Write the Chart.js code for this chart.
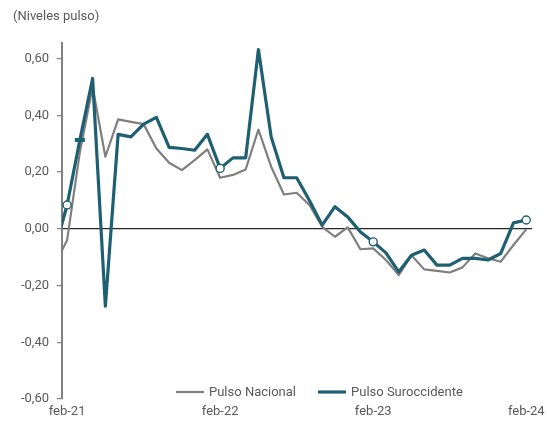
<!DOCTYPE html>
<html>
<head>
<meta charset="utf-8">
<script src="https://cdn.jsdelivr.net/npm/chart.js@4.4.0/dist/chart.umd.min.js"></script>
<style>
  html, body { margin: 0; padding: 0; background: #ffffff; }
  #wrap { width: 547px; height: 422px; position: relative; }
</style>
</head>
<body>
<div id="wrap"><canvas id="c"></canvas></div>
<script>
// ---- Data ----
const months = [
  'ene-21','feb-21','mar-21','abr-21','may-21','jun-21','jul-21','ago-21','sep-21','oct-21','nov-21','dic-21',
  'ene-22','feb-22','mar-22','abr-22','may-22','jun-22','jul-22','ago-22','sep-22','oct-22','nov-22','dic-22',
  'ene-23','feb-23','mar-23','abr-23','may-23','jun-23','jul-23','ago-23','sep-23','oct-23','nov-23','dic-23',
  'ene-24','feb-24'
];
const pulsoNacional = [
  -0.13, -0.04, 0.27, 0.50, 0.254, 0.386, 0.377, 0.369, 0.283, 0.233, 0.207, 0.242,
  0.28, 0.18, 0.19, 0.209, 0.35, 0.219, 0.121, 0.127, 0.084, 0.007, -0.028, 0.005,
  -0.072, -0.069, -0.11, -0.163, -0.093, -0.143, -0.148, -0.154, -0.136, -0.087, -0.104, -0.116,
  -0.057, -0.002
];
const pulsoSuroccidente = [
  -0.08, 0.084, 0.313, 0.53, -0.273, 0.333, 0.324, 0.369, 0.393, 0.287, 0.283, 0.277,
  0.333, 0.213, 0.25, 0.25, 0.632, 0.324, 0.18, 0.18, 0.10, 0.013, 0.078, 0.042,
  -0.011, -0.046, -0.085, -0.152, -0.093, -0.075, -0.128, -0.128, -0.104, -0.104, -0.11, -0.087,
  0.021, 0.031
];
const xTickLabels = ['feb-21', 'feb-22', 'feb-23', 'feb-24'];
const yTickValues = [-0.6, -0.4, -0.2, 0, 0.2, 0.4, 0.6];
const circleMonths = ['feb-21', 'feb-22', 'feb-23', 'feb-24'];
const dashMonths = ['mar-21'];
const seriesNames = ['Pulso Nacional', 'Pulso Suroccidente'];

// ---- Styles ----
const GRAY = '#7f7f7f';
const BLUE = '#1f5f72';
const TEXT = '#595959';
const FONT = 'Roboto, "Liberation Sans", Arial, sans-serif';

const toPts = arr => arr.map((v, i) => ({ x: i, y: v }));
const fmt = v => (Math.round(v * 100) / 100).toFixed(2).replace('.', ',').replace(/^-0,00$/, '0,00');

const legendPlugin = {
  id: 'inlineLegend',
  afterDraw(chart) {
    const ctx = chart.ctx;
    const y = 392;
    let x = 176;
    ctx.save();
    ctx.font = '13px ' + FONT;
    ctx.textBaseline = 'middle';
    ctx.textAlign = 'left';
    chart.data.datasets.forEach((ds, k) => {
      ctx.strokeStyle = ds.borderColor;
      ctx.lineWidth = ds.borderWidth;
      ctx.beginPath();
      ctx.moveTo(x, y);
      ctx.lineTo(x + 28, y);
      ctx.stroke();
      ctx.fillStyle = TEXT;
      ctx.fillText(ds.label, x + 33, y + 0.5);
      x += 33 + ctx.measureText(ds.label).width + 22;
    });
    ctx.restore();
  }
};

new Chart(document.getElementById('c'), {
  type: 'line',
  data: {
    datasets: [
      {
        label: seriesNames[0],
        data: toPts(pulsoNacional),
        borderColor: GRAY,
        backgroundColor: GRAY,
        borderWidth: 2.2,
        borderJoinStyle: 'round',
        pointRadius: 0,
        tension: 0,
        clip: 0,
        order: 1
      },
      {
        label: seriesNames[1],
        data: toPts(pulsoSuroccidente),
        borderColor: BLUE,
        backgroundColor: BLUE,
        borderWidth: 3.2,
        borderJoinStyle: 'round',
        tension: 0,
        clip: 0,
        order: 0,
        pointStyle: ctx => dashMonths.includes(months[ctx.dataIndex]) ? 'line' : 'circle',
        pointRadius: ctx => circleMonths.includes(months[ctx.dataIndex]) ? 4 :
                            (dashMonths.includes(months[ctx.dataIndex]) ? 5 : 0),
        pointBackgroundColor: '#ffffff',
        pointBorderColor: BLUE,
        pointBorderWidth: ctx => dashMonths.includes(months[ctx.dataIndex]) ? 4 : 1.4
      }
    ]
  },
  options: {
    responsive: true,
    maintainAspectRatio: false,
    animation: false,
    events: [],
    layout: { padding: { left: 13, right: 15, top: 0, bottom: 0 } },
    plugins: {
      legend: { display: false },
      tooltip: { enabled: false },
      title: {
        display: true,
        text: '(Niveles pulso)',
        align: 'start',
        color: TEXT,
        font: { family: FONT, size: 13, weight: 'normal' },
        padding: { top: 9, bottom: 18.4 }
      }
    },
    scales: {
      x: {
        type: 'linear',
        min: 0.6,
        max: 37.45,
        afterBuildTicks: scale => {
          scale.ticks = xTickLabels.map(l => ({ value: months.indexOf(l) }));
        },
        afterFit: scale => { scale.height = 23; scale.paddingLeft = 0; scale.paddingRight = 0; },
        grid: { display: false, drawTicks: false },
        border: { display: false },
        ticks: {
          color: TEXT,
          font: { family: FONT, size: 13 },
          padding: 5,
          maxRotation: 0,
          autoSkip: false,
          callback: v => months[v]
        }
      },
      y: {
        min: -0.6,
        max: 0.655,
        afterBuildTicks: scale => {
          scale.ticks = yTickValues.map(v => ({ value: v }));
        },
        afterFit: scale => { scale.width = 49; scale.paddingTop = 0; scale.paddingBottom = 0; },
        border: { display: true, color: '#808080', width: 2 },
        grid: {
          drawOnChartArea: true,
          color: ctx => (ctx.tick && Math.abs(ctx.tick.value) < 1e-9) ? '#262626' : 'rgba(0,0,0,0)',
          lineWidth: 1.3,
          drawTicks: true,
          tickLength: 5,
          tickColor: '#808080',
          tickWidth: 1.2
        },
        ticks: {
          color: TEXT,
          font: { family: FONT, size: 13 },
          padding: 8,
          autoSkip: false,
          callback: v => fmt(v)
        }
      }
    }
  },
  plugins: [legendPlugin]
});
</script>
</body>
</html>
